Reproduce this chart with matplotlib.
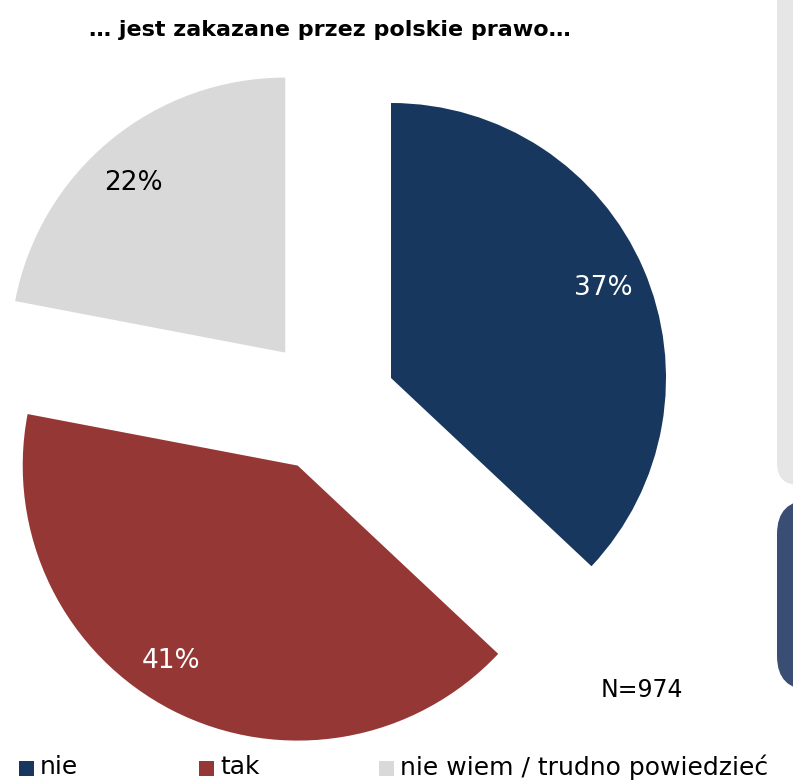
import matplotlib.pyplot as plt
from matplotlib.patches import FancyBboxPatch, Rectangle

# dane
labels = ['nie', 'tak', 'nie wiem / trudno powiedzieć']
values = [37, 41, 22]
colors = ['#17375e', '#953735', '#d9d9d9']
pct_colors = ['white', 'white', 'black']
title = '… jest zakazane przez polskie prawo…'
n_text = 'N=974'

W, H = 793, 783
fig = plt.figure(figsize=(W / 100, H / 100), dpi=100)
ax = fig.add_axes([0, 0, 1, 1])

# tło z prawej strony (fragment slajdu)
ax.add_patch(FancyBboxPatch((777, 298), 80, 560, boxstyle='round,pad=0,rounding_size=22',
                            facecolor='#e6e6e6', edgecolor='none', zorder=0))
ax.add_patch(FancyBboxPatch((777, 93), 80, 190, boxstyle='round,pad=0,rounding_size=34',
                            facecolor='#3a4d73', edgecolor='none', zorder=0))

wedges, texts, autotexts = ax.pie(values, colors=colors, startangle=90, counterclock=False,
                                  center=(328.6, 378), radius=275, explode=[68] * 3,
                                  autopct='%1.0f%%', pctdistance=0.84,
                                  wedgeprops=dict(linewidth=0),
                                  textprops=dict(fontsize=19))
for t, c in zip(autotexts, pct_colors):
    t.set_color(c)

# drobne przesunięcia etykiet jak w oryginale (Excel)
shifts = [(0, -2), (-22, 10), (-5, -8)]
for t, (dx, dy) in zip(autotexts, shifts):
    x, y = t.get_position()
    t.set_position((x + dx, y + dy))

ax.set_xlim(0, W)
ax.set_ylim(0, H)
ax.set_aspect('equal')
ax.axis('off')

ax.text(330, H - 30, title, ha='center', va='center', fontsize=16, fontweight='bold',
        family=['Liberation Sans Narrow', 'DejaVu Sans'])
ax.text(642, H - 690, n_text, ha='center', va='center', fontsize=17)

# legenda
for i, (lab, col) in enumerate(zip(labels, colors)):
    x0 = 19 + i * 180
    ax.add_patch(Rectangle((x0, H - 776), 15, 15, facecolor=col, edgecolor='none'))
    ax.text(x0 + 21, H - 767, lab, ha='left', va='center', fontsize=18)

fig.savefig('out.png', dpi=100)
